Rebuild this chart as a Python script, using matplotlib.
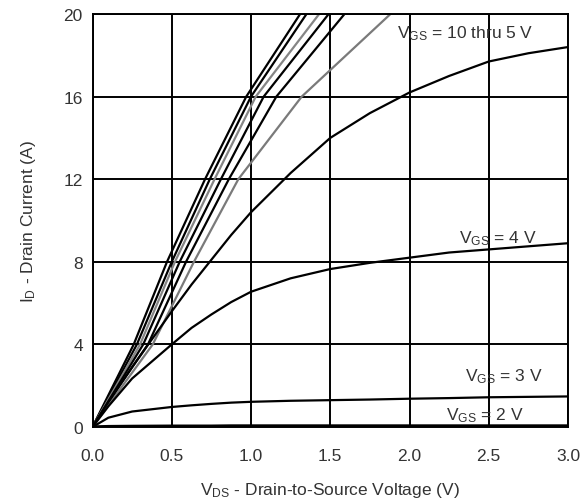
import matplotlib
matplotlib.use("Agg")
import matplotlib.pyplot as plt

plt.rcParams['font.family'] = ['Liberation Sans', 'DejaVu Sans']
plt.rcParams['mathtext.fontset'] = 'custom'
plt.rcParams['mathtext.rm'] = 'Liberation Sans'
plt.rcParams['mathtext.default'] = 'regular'

# steep curves (VGS = 10 thru 6): drain voltage read at fixed current levels
id_levels = [0, 2, 4, 8, 12, 16, 20]
vds_a = [0, 0.13, 0.26, 0.47, 0.71, 0.97, 1.31]
vds_b = [0, 0.14, 0.28, 0.50, 0.74, 1.00, 1.35]
vds_c = [0, 0.15, 0.30, 0.52, 0.77, 1.03, 1.43]
vds_d = [0, 0.16, 0.32, 0.55, 0.81, 1.08, 1.49]
vds_e = [0, 0.17, 0.35, 0.59, 0.86, 1.16, 1.59]
vds_f = [0, 0.19, 0.38, 0.64, 0.92, 1.32, 1.88]
steep = [vds_a, vds_b, vds_c, vds_d, vds_e, vds_f]
steep_colors = ['black', 'black', '#858585', 'black', 'black', '#7a7a7a']

# lower curves: current read at fixed drain voltages
vds = [0, 0.1, 0.25, 0.5, 0.625, 0.75, 0.875, 1.0, 1.25, 1.5, 1.75, 2.0, 2.25, 2.5, 2.75, 3.0]
id_5v = [0, 1.2, 2.9, 5.6, 6.9, 8.1, 9.3, 10.4, 12.3, 14.0, 15.2, 16.2, 17.0, 17.7, 18.1, 18.4]
id_4v = [0, 1.0, 2.35, 4.0, 4.8, 5.45, 6.05, 6.55, 7.2, 7.65, 7.95, 8.2, 8.45, 8.6, 8.75, 8.9]
id_3v = [0, 0.45, 0.75, 0.97, 1.05, 1.12, 1.18, 1.22, 1.27, 1.3, 1.33, 1.37, 1.4, 1.44, 1.46, 1.48]
id_2v = [0, 0.02, 0.03, 0.04, 0.04, 0.04, 0.05, 0.05, 0.05, 0.05, 0.05, 0.05, 0.05, 0.05, 0.05, 0.05]

fig = plt.figure(figsize=(5.84, 5.02), dpi=100)
ax = fig.add_axes([0.1584, 0.1474, 0.8142, 0.8227])

for v, c in zip(steep, steep_colors):
    ax.plot(v, id_levels, color=c, lw=1.6)
for i in [id_5v, id_4v, id_3v]:
    ax.plot(vds, i, color='black', lw=1.6)
ax.plot(vds, id_2v, color='black', lw=2.4)

ax.set_xlim(0, 3.0)
ax.set_ylim(0, 20)
ax.set_xticks([0, 0.5, 1.0, 1.5, 2.0, 2.5, 3.0])
ax.set_xticklabels(['0.0', '0.5', '1.0', '1.5', '2.0', '2.5', '3.0'])
ax.set_yticks([0, 4, 8, 12, 16, 20])
ax.grid(True, color='black', lw=1.4)
ax.set_axisbelow(True)
for s in ax.spines.values():
    s.set_linewidth(1.4)
ax.tick_params(axis='x', length=0, pad=15, labelsize=12.5, labelcolor='#333333')
ax.tick_params(axis='y', length=0, pad=7, labelsize=12.5, labelcolor='#333333')

ax.set_xlabel(r'V$_{DS}$ - Drain-to-Source Voltage (V)', fontsize=12.5, color='#333333', labelpad=12)
ax.set_ylabel(r'I$_{D}$ - Drain Current (A)', fontsize=12.5, color='#333333', labelpad=18)

txt = dict(fontsize=12.5, color='#333333', va='center', ha='left')
ax.text(1.92, 19.1, r'V$_{GS}$ = 10 thru 5 V', **txt)
ax.text(2.31, 9.15, r'V$_{GS}$ = 4 V', **txt)
ax.text(2.35, 2.5, r'V$_{GS}$ = 3 V', **txt)
ax.text(2.23, 0.62, r'V$_{GS}$ = 2 V', **txt)

fig.savefig('out.png', dpi=100)
